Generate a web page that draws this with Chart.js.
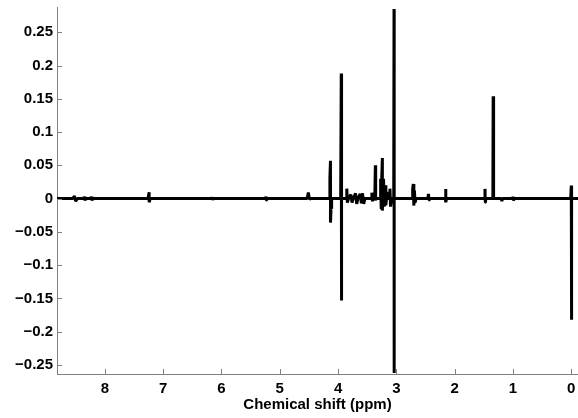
<!DOCTYPE html>
<html>
<head>
<meta charset="utf-8">
<script src="https://cdn.jsdelivr.net/npm/chart.js@4/dist/chart.umd.min.js"></script>
<style>
    html, body { margin: 0; padding: 0; background: #fff; }
    #wrap { width: 578px; height: 418px; position: relative; }
</style>
</head>
<body>
<div id="wrap"><canvas id="spectrum"></canvas></div>
<script>
//Spectrum points (ppm, intensity)
var shift = [
    8.82, 8.55, 8.52, 8.50, 8.47, 8.36, 8.35, 8.34, 8.33, 8.24, 8.23, 8.22, 8.21,
    7.26, 7.24, 7.24, 7.22, 6.17, 6.16, 6.15, 6.14, 5.25, 5.24, 5.23, 5.22,
    4.53, 4.51, 4.49, 4.47, 4.15, 4.14, 4.13, 4.13, 4.12, 4.11,
    3.955, 3.945, 3.945, 3.935, 3.86, 3.85, 3.84, 3.82, 3.78, 3.76, 3.74,
    3.70, 3.68, 3.66, 3.62, 3.60, 3.58, 3.56, 3.54, 3.43, 3.42, 3.41, 3.40,
    3.37, 3.36, 3.36, 3.35, 3.28, 3.27, 3.26, 3.25, 3.24, 3.24, 3.22, 3.21,
    3.19, 3.18, 3.16, 3.14, 3.12, 3.11, 3.10, 3.08, 3.045, 3.04, 3.04, 3.035,
    2.73, 2.72, 2.71, 2.70, 2.69, 2.68, 2.66, 2.46, 2.45, 2.44, 2.43,
    2.16, 2.155, 2.15, 2.14, 1.49, 1.48, 1.475, 1.47, 1.345, 1.34, 1.335, 1.33,
    1.20, 1.19, 1.18, 1.01, 1.00, 0.99, 0.98, 0.01, 0.0, 0.0, -0.01, -0.115
];
var intensity = [
    0, 0, 0.004, -0.004, 0, 0, 0.003, -0.003, 0, 0, 0.003, -0.003, 0,
    0, 0.0095, -0.0055, 0, 0, 0.002, -0.002, 0, 0, 0.003, -0.002, 0,
    0, 0.009, -0.001, 0, 0, 0.03, 0.057, -0.036, -0.015, 0,
    0, 0.188, -0.153, 0, 0, 0.015, -0.006, 0, 0.006, -0.006, 0,
    0.008, -0.008, 0, 0.007, -0.007, 0.008, -0.008, 0, 0, 0.009, -0.004, 0,
    0, 0.05, -0.003, 0, 0, 0.03, -0.015, 0.032, 0.061, -0.018, 0.03, -0.012,
    0.02, -0.01, 0.01, 0, 0, 0.015, -0.012, 0, 0, 0.285, -0.262, 0,
    0, 0.015, 0.022, -0.0105, 0.012, -0.006, 0, 0, 0.007, -0.002, 0,
    0, 0.0146, -0.0055, 0, 0, 0.0146, -0.0055, 0, 0, 0.154, -0.002, 0,
    0, -0.004, 0, 0, 0.003, -0.003, 0, 0, 0.0196, -0.182, 0, 0
];

//Axis ticks
var xTicks = [8, 7, 6, 5, 4, 3, 2, 1, 0];
var yTicks = [-0.25, -0.2, -0.15, -0.1, -0.05, 0, 0.05, 0.1, 0.15, 0.2, 0.25];

var axisColor = '#808080';
var tickFont = { family: 'Liberation Sans, Arial, sans-serif', size: 15, weight: 'bold' };

// MATLAB style: tick marks point into the plot
var inwardTicks = {
    id: 'inwardTicks',
    afterDraw: function (chart) {
        var ctx = chart.ctx;
        var area = chart.chartArea;
        var len = 5;
        ctx.save();
        ctx.strokeStyle = axisColor;
        ctx.lineWidth = 1;
        ctx.beginPath();
        xTicks.forEach(function (v) {
            var px = Math.round(chart.scales.x.getPixelForValue(v)) + 0.5;
            ctx.moveTo(px, area.bottom);
            ctx.lineTo(px, area.bottom - len);
        });
        yTicks.forEach(function (v) {
            var py = Math.round(chart.scales.y.getPixelForValue(v)) + 0.5;
            ctx.moveTo(area.left, py);
            ctx.lineTo(area.left + len, py);
        });
        ctx.stroke();
        ctx.restore();
    }
};

var points = shift.map(function (s, i) {
    return { x: s, y: intensity[i] };
});

var ctxSpectrum = document.getElementById('spectrum');
var myLineChart = new Chart(ctxSpectrum, {
    type: 'line',
    data: {
        datasets: [
            {
                data: points,
                borderColor: '#000000',
                borderWidth: 3,
                borderJoinStyle: 'bevel',
                borderCapStyle: 'butt',
                pointRadius: 0,
                tension: 0,
                fill: false
            }
        ]
    },
    options: {
        responsive: true,
        maintainAspectRatio: false,
        animation: false,
        events: [],
        layout: { padding: { top: 7, right: 0, left: 0, bottom: 0 } },
        plugins: {
            legend: { display: false },
            tooltip: { enabled: false }
        },
        scales: {
            x: {
                type: 'linear',
                reverse: true,
                min: -0.115,
                max: 8.82,
                afterBuildTicks: function (scale) {
                    scale.ticks = xTicks.map(function (v) { return { value: v }; });
                },
                afterFit: function (scale) {
                    scale.height = 44;
                    scale.paddingLeft = 0;
                    scale.paddingRight = 0;
                },
                grid: { drawOnChartArea: false, drawTicks: false },
                border: { color: axisColor, width: 1 },
                ticks: {
                    color: '#000',
                    font: tickFont,
                    padding: 6,
                    maxRotation: 0,
                    autoSkip: false,
                    callback: function (v) { return String(v); }
                },
                title: {
                    display: true,
                    text: 'Chemical shift (ppm)',
                    color: '#000',
                    font: tickFont,
                    padding: { top: 0, bottom: 4 }
                }
            },
            y: {
                type: 'linear',
                min: -0.2636,
                max: 0.288,
                afterBuildTicks: function (scale) {
                    scale.ticks = yTicks.map(function (v) { return { value: v }; });
                },
                afterFit: function (scale) {
                    scale.width = 57;
                    scale.paddingTop = 0;
                    scale.paddingBottom = 0;
                },
                grid: { drawOnChartArea: false, drawTicks: false },
                border: { color: axisColor, width: 1 },
                ticks: {
                    color: '#000',
                    font: tickFont,
                    padding: 4,
                    autoSkip: false,
                    callback: function (v) {
                        var s = String(Math.round(v * 100) / 100);
                        return s.replace('-', '\u2212');
                    }
                }
            }
        }
    },
    plugins: [inwardTicks]
});
</script>
</body>
</html>
